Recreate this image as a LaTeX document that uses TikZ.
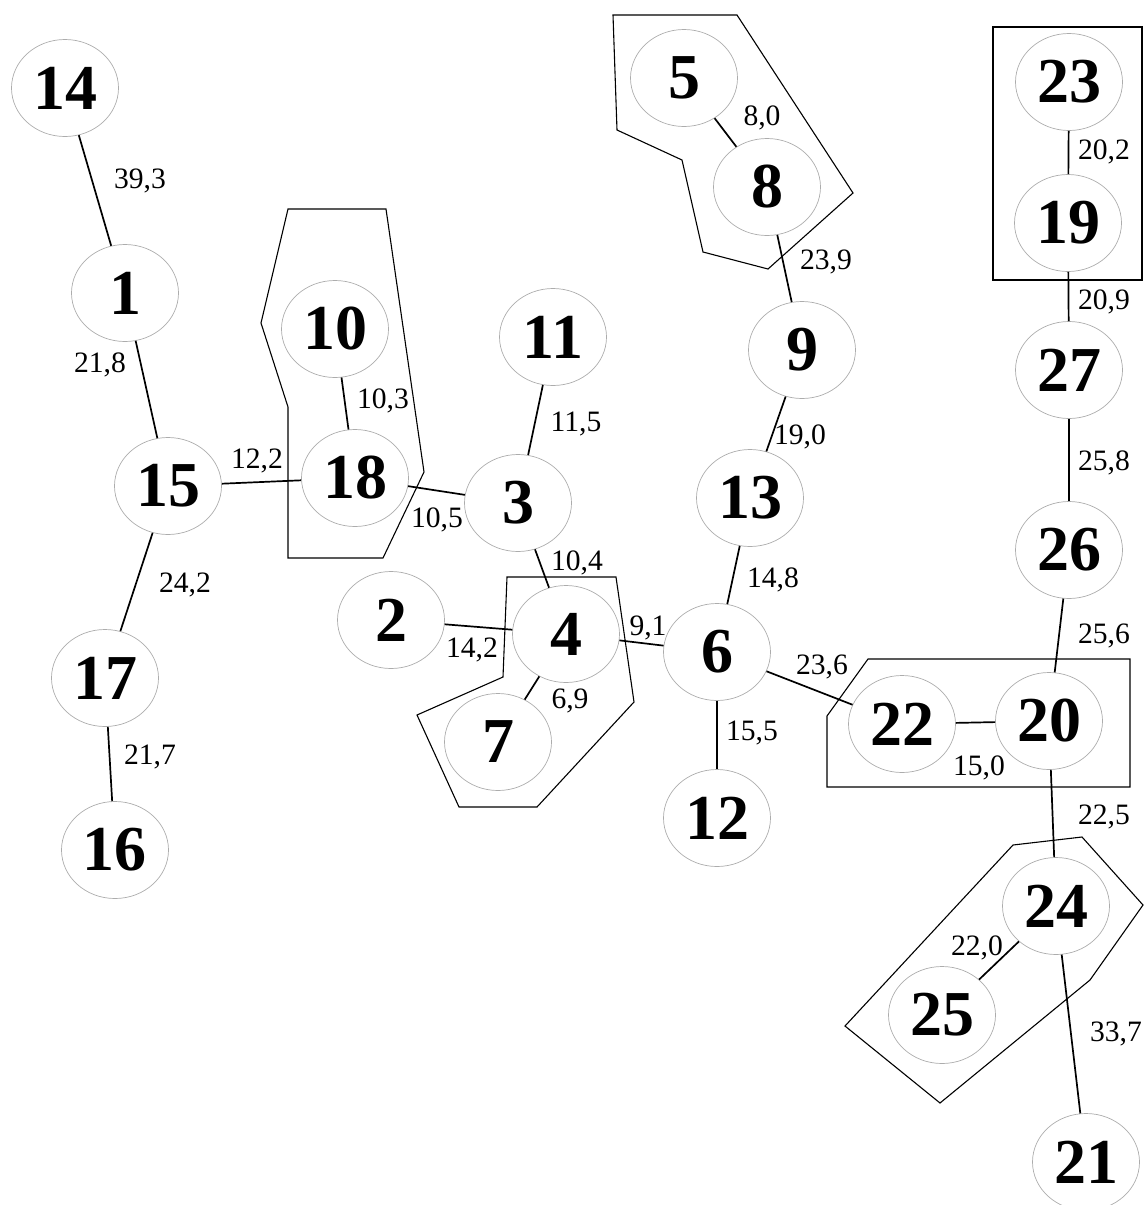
\documentclass[tikz,border=0pt]{standalone}
\usepackage{fontspec}
\setmainfont{Liberation Serif}
\usetikzlibrary{shapes.geometric}
\begin{document}
\begin{tikzpicture}[x=0.5pt,y=-0.5pt,
  vert/.style={ellipse,draw=gray!65,line width=0.35pt,minimum width=53.5pt,minimum height=48.5pt,inner sep=0pt,font=\fontsize{32}{32}\selectfont\bfseries},
  edge/.style={line width=0.85pt},
  wt/.style={font=\fontsize{14.8}{15}\selectfont,inner sep=0pt},
  grp/.style={line width=0.55pt}]
\useasboundingbox (0,0) rectangle (1144,1205);
% groups
\draw[grp] (288,209) -- (386,209) -- (424,472) -- (383,558) -- (288,558) -- (288,407) -- (261,323) -- cycle;
\draw[grp] (507,577) -- (616,577) -- (634,702) -- (537,807) -- (459,807) -- (417,715) -- (503,677) -- cycle;
\draw[grp] (613,15) -- (737,15) -- (853,193) -- (768,269) -- (703,252) -- (682,160) -- (617,130) -- cycle;
\draw[grp] (993,27) rectangle (1142,280);
\draw[grp] (868,659) -- (1130,659) -- (1130,787) -- (827,787) -- (827,716) -- cycle;
\draw[grp] (845,1026) -- (1013,845) -- (1082,837) -- (1143,905) -- (1090,980) -- (940,1103) -- cycle;
% vertices
\node[vert] (n14) at (65,88) {14};
\node[vert] (n1) at (125,293) {1};
\node[vert] (n15) at (168,486) {15};
\node[vert] (n17) at (105,678) {17};
\node[vert] (n16) at (115,850) {16};
\node[vert] (n10) at (335,329) {10};
\node[vert] (n18) at (355,478) {18};
\node[vert] (n11) at (553,337) {11};
\node[vert] (n3) at (518,503) {3};
\node[vert] (n2) at (391,620) {2};
\node[vert] (n4) at (566,634) {4};
\node[vert] (n7) at (498,742) {7};
\node[vert] (n6) at (717,652) {6};
\node[vert] (n12) at (717,818) {12};
\node[vert] (n13) at (750,498) {13};
\node[vert] (n9) at (802,350) {9};
\node[vert] (n5) at (684,78) {5};
\node[vert] (n8) at (767,187) {8};
\node[vert] (n23) at (1069,82) {23};
\node[vert] (n19) at (1068,223) {19};
\node[vert] (n27) at (1069,370) {27};
\node[vert] (n26) at (1069,550) {26};
\node[vert] (n22) at (902,724) {22};
\node[vert] (n20) at (1049,721) {20};
\node[vert] (n24) at (1056,906) {24};
\node[vert] (n25) at (942,1015) {25};
\node[vert] (n21) at (1086,1162) {21};
% edges
\draw[edge] (n14) -- (n1);
\draw[edge] (n1) -- (n15);
\draw[edge] (n15) -- (n18);
\draw[edge] (n15) -- (n17);
\draw[edge] (n17) -- (n16);
\draw[edge] (n10) -- (n18);
\draw[edge] (n18) -- (n3);
\draw[edge] (n11) -- (n3);
\draw[edge] (n3) -- (n4);
\draw[edge] (n2) -- (n4);
\draw[edge] (n4) -- (n6);
\draw[edge] (n4) -- (n7);
\draw[edge] (n6) -- (n13);
\draw[edge] (n6) -- (n12);
\draw[edge] (n6) -- (n22);
\draw[edge] (n22) -- (n20);
\draw[edge] (n13) -- (n9);
\draw[edge] (n9) -- (n8);
\draw[edge] (n5) -- (n8);
\draw[edge] (n23) -- (n19);
\draw[edge] (n19) -- (n27);
\draw[edge] (n27) -- (n26);
\draw[edge] (n26) -- (n20);
\draw[edge] (n20) -- (n24);
\draw[edge] (n24) -- (n25);
\draw[edge] (n24) -- (n21);
% weights
\node[wt] (w1) at (140,181) {39,3};
\node[wt] (w2) at (100,365) {21,8};
\node[wt] (w3) at (257,461) {12,2};
\node[wt] (w4) at (185,585) {24,2};
\node[wt] (w5) at (150,757) {21,7};
\node[wt] (w6) at (383,401) {10,3};
\node[wt] (w7) at (437,520) {10,5};
\node[wt] (w8) at (576,424) {11,5};
\node[wt] (w9) at (577,563) {10,4};
\node[wt] (w10) at (472,650) {14,2};
\node[wt] (w11) at (648,628) {9,1};
\node[wt] (w12) at (570,701) {6,9};
\node[wt] (w13) at (773,580) {14,8};
\node[wt] (w14) at (752,733) {15,5};
\node[wt] (w15) at (822,667) {23,6};
\node[wt] (w16) at (979,768) {15,0};
\node[wt] (w17) at (800,437) {19,0};
\node[wt] (w18) at (826,262) {23,9};
\node[wt] (w19) at (762,118) {8,0};
\node[wt] (w20) at (1104,152) {20,2};
\node[wt] (w21) at (1104,302) {20,9};
\node[wt] (w22) at (1104,463) {25,8};
\node[wt] (w23) at (1104,636) {25,6};
\node[wt] (w24) at (1104,817) {22,5};
\node[wt] (w25) at (977,948) {22,0};
\node[wt] (w26) at (1116,1034) {33,7};
\end{tikzpicture}
\end{document}
